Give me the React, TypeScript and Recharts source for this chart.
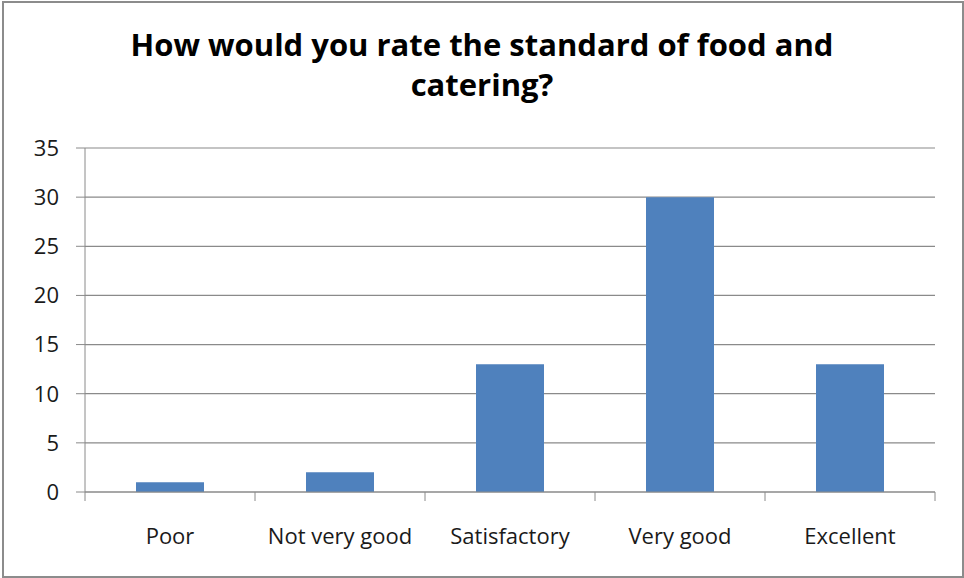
import { Bar, BarChart, CartesianGrid, XAxis, YAxis } from "recharts";

const categories = ["Poor", "Not very good", "Satisfactory", "Very good", "Excellent"];
const counts = [1, 2, 13, 30, 13];
const yTicks = [0, 5, 10, 15, 20, 25, 30, 35];

const data = categories.map((name, i) => ({ name, value: counts[i] }));

const FONT = "'Open Sans', sans-serif";
const GRID = "#8a8a8a";
const TICK_LEN = 9;

// category label in the middle, tick marks on the band edges (like Excel)
function CategoryTick(props: any) {
  const { x, y, payload, index, visibleTicksCount } = props;
  const half = payload.offset ?? 0;
  const top = y - TICK_LEN;
  const last = index === visibleTicksCount - 1;
  return (
    <g>
      <line x1={x - half} x2={x - half} y1={top} y2={y} stroke={GRID} />
      {last && <line x1={x + half} x2={x + half} y1={top} y2={y} stroke={GRID} />}
      <text x={x} y={y + 43} textAnchor="middle" fontSize={22} fill="#1a1a1a" fontFamily={FONT}>
        {payload.value}
      </text>
    </g>
  );
}

export default function App() {
  return (
    <div
      style={{
        position: "fixed",
        left: 0,
        top: 0,
        width: 964,
        height: 578,
        background: "#fff",
        fontFamily: FONT,
      }}
    >
      <div
        style={{
          position: "absolute",
          left: 2,
          top: 1,
          width: 958,
          height: 573,
          border: "2px solid #8c8c8c",
        }}
      />
      <div
        style={{
          position: "absolute",
          left: 0,
          top: 24,
          width: 964,
          textAlign: "center",
          fontWeight: 700,
          fontSize: 31,
          lineHeight: "40px",
          color: "#000",
        }}
      >
        How would you rate the standard of food and
        <br />
        catering?
      </div>
      <BarChart
        width={964}
        height={578}
        data={data}
        margin={{ top: 148, right: 29, left: 25, bottom: 36 }}
        barCategoryGap="30%"
      >
        <CartesianGrid vertical={false} stroke={GRID} strokeWidth={1.2} />
        <XAxis
          dataKey="name"
          height={50}
          tickLine={false}
          tickSize={TICK_LEN}
          tickMargin={0}
          interval={0}
          axisLine={{ stroke: GRID }}
          tick={<CategoryTick />}
        />
        <YAxis
          domain={[0, 35]}
          ticks={yTicks}
          width={60}
          tickSize={TICK_LEN}
          tickMargin={17}
          axisLine={{ stroke: GRID }}
          tickLine={{ stroke: GRID }}
          tick={{ fontSize: 22, fill: "#1a1a1a", fontFamily: FONT }}
        />
        <Bar dataKey="value" fill="#4f81bd" isAnimationActive={false} />
      </BarChart>
    </div>
  );
}
